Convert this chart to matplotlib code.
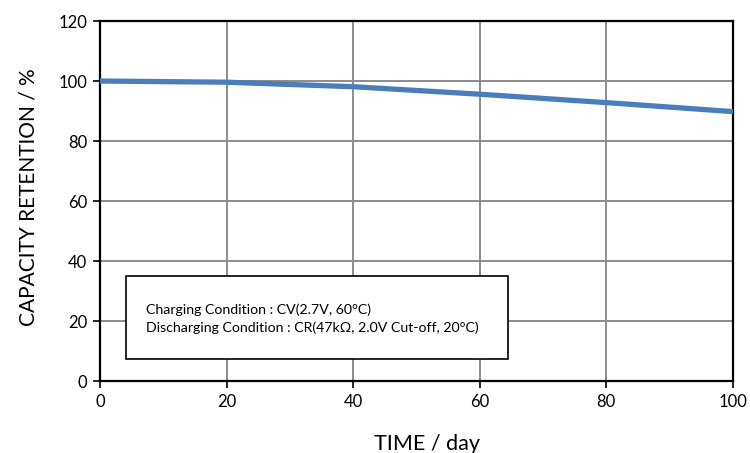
import numpy as np
import matplotlib.pyplot as plt
from matplotlib.patches import Rectangle

plt.rcParams['font.family'] = ['Lato', 'DejaVu Sans']

# Capacity retention vs storage time
days = [0, 20, 40, 60, 80, 100]
retention = [100, 99.6, 98.1, 95.6, 92.8, 89.8]

x_ticks = [0, 20, 40, 60, 80, 100]
y_ticks = [0, 20, 40, 60, 80, 100, 120]

cond_lines = ["Charging Condition : CV(2.7V, 60\u00b0C)",
              "Discharging Condition : CR(47k\u03a9, 2.0V Cut-off, 20\u00b0C)"]

fig = plt.figure(figsize=(7.5, 4.53), dpi=100)
ax = fig.add_axes([0.1333, 0.1589, 0.8440, 0.7947])

ax.plot(days, retention, color='#4a7ebb', linewidth=3.8, solid_capstyle='butt', zorder=3)

ax.set_xlim(0, 100)
ax.set_ylim(0, 120)
ax.set_xticks(x_ticks)
ax.set_yticks(y_ticks)
ax.tick_params(direction='out', length=5, width=1.2, labelsize=12, pad=4)
ax.grid(True, color='#8c8c8c', linewidth=1.4)
ax.set_axisbelow(True)
for sp in ax.spines.values():
    sp.set_color('black')
    sp.set_linewidth(1.6)

ax.set_xlabel('TIME / day', fontsize=15.5)
ax.set_ylabel('CAPACITY RETENTION / %', fontsize=15)
ax.xaxis.set_label_coords(0.517, -0.146)
ax.yaxis.set_label_coords(-0.097, 0.51)

# condition box
ax.add_patch(Rectangle((0.041, 0.061), 0.604, 0.2315, transform=ax.transAxes,
                       facecolor='white', edgecolor='black', linewidth=1.2, zorder=4))
ax.text(0.073, 0.197, cond_lines[0], transform=ax.transAxes, fontsize=10.2,
        va='center', ha='left', zorder=5)
ax.text(0.073, 0.147, cond_lines[1], transform=ax.transAxes, fontsize=10.2,
        va='center', ha='left', zorder=5)

fig.savefig('out.png', dpi=100)
